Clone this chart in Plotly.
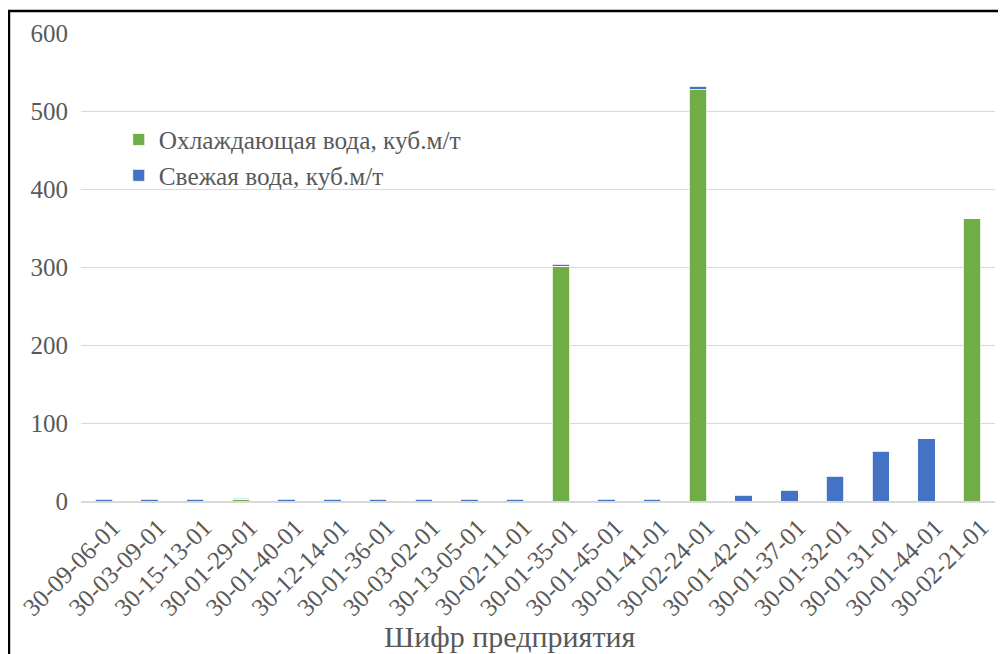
"""Water use per enterprise: stacked columns, cooling vs fresh water."""
import plotly.graph_objects as go

categories = [
    "30-09-06-01", "30-03-09-01", "30-15-13-01", "30-01-29-01", "30-01-40-01",
    "30-12-14-01", "30-01-36-01", "30-03-02-01", "30-13-05-01", "30-02-11-01",
    "30-01-35-01", "30-01-45-01", "30-01-41-01", "30-02-24-01", "30-01-42-01",
    "30-01-37-01", "30-01-32-01", "30-01-31-01", "30-01-44-01", "30-02-21-01",
]
cooling_water = [0, 0, 0, 2, 0, 0, 0, 0, 0, 0, 301, 0, 0, 527, 0, 0, 0, 0, 0, 362]
fresh_water = [2, 2, 2, 1.5, 2, 2, 2, 2, 2, 2, 2.5, 2, 2, 5, 7.5, 14, 32, 64, 80, 0]

FONT = "Liberation Serif"
GREY = "#595959"

fig = go.Figure()
fig.add_trace(go.Bar(
    x=categories, y=cooling_water, name="Охлаждающая вода, куб.м/т",
    marker=dict(color="#70AD47", line=dict(color="white", width=0.8)),
    legendgroup="a",
))
fig.add_trace(go.Bar(
    x=categories, y=fresh_water, name="Свежая вода, куб.м/т",
    marker=dict(color="#4472C4", line=dict(color="white", width=0.8)),
    legendgroup="b",
))

# the page has an 8px body margin, so the figure is made 8px smaller
fig.update_layout(
    barmode="stack",
    bargap=0.62,
    width=998, height=646,
    margin=dict(l=73, r=11, t=25, b=153),
    paper_bgcolor="white", plot_bgcolor="white",
    font=dict(family=FONT, color=GREY, size=20),
    legend=dict(
        x=0.0413, y=0.8215, xanchor="left", yanchor="top",
        traceorder="normal", tracegroupgap=7,
        font=dict(family=FONT, size=25.3, color=GREY), bgcolor="rgba(0,0,0,0)",
    ),
    shapes=[
        dict(type="line", xref="paper", yref="paper",
             x0=-0.08, x1=1.03, y0=1.047, y1=1.047,
             line=dict(color="black", width=2.5)),
        dict(type="line", xref="paper", yref="paper",
             x0=-0.0788, x1=-0.0788, y0=1.047, y1=-0.4,
             line=dict(color="black", width=2.5)),
    ],
    annotations=[
        dict(text="Шифр предприятия", xref="paper", yref="paper",
             x=0.469, y=-0.29, xanchor="center", yanchor="middle",
             showarrow=False, font=dict(family=FONT, size=30, color=GREY)),
    ],
)
fig.update_xaxes(
    automargin=False,
    tickangle=-45, tickfont=dict(family=FONT, size=25, color=GREY),
    ticklabelshift=9,
    showline=True, linecolor="#d9d9d9", linewidth=1.5,
)
fig.update_yaxes(
    automargin=False,
    range=[0, 600], dtick=100, tickfont=dict(family=FONT, size=25, color=GREY),
    showgrid=True, gridcolor="#d9d9d9", gridwidth=1.2,
    zeroline=False, ticks="", ticklabelstandoff=12,
)

fig.write_html("out.html")
